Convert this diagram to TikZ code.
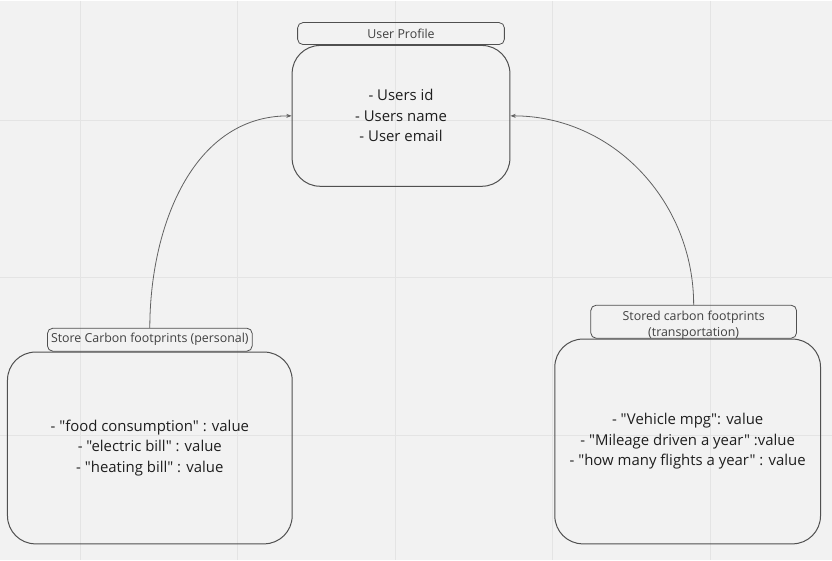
\documentclass[tikz,border=0pt]{standalone}
\usepackage{fontspec}
\setmainfont{Open Sans}[Ligatures=TeXOff]
\usepackage{tikz}
\usetikzlibrary{positioning}
\usetikzlibrary{arrows.meta}
\definecolor{canvas}{RGB}{242, 242, 242}
\definecolor{gridline}{RGB}{228, 228, 228}
\definecolor{outline}{RGB}{80, 80, 80}
\definecolor{inktext}{RGB}{30, 30, 30}

\begin{document}
\begin{tikzpicture}[x=0.75pt, y=-0.75pt,
        bigbox/.style   ={draw=outline, line width=0.75pt, rounded corners=21pt, align=center, inner sep=0pt,
                          text=inktext, font=\fontsize{11.2}{15.4}\selectfont},
        titlebox/.style ={draw=outline, line width=0.6pt, rounded corners=4pt, align=center, inner sep=0pt,
                          text=inktext!85, font=\fontsize{9.3}{12}\selectfont},
        link/.style     ={draw=outline!90, line width=0.6pt, -{Stealth[length=4pt, width=3pt]}}]
            \fill[canvas] (0,0) rectangle (832,560);
            \foreach \gx in {80, 237.7, 395.4, 553.1, 710.8}
                \draw[gridline, line width=0.75pt] (\gx,0) -- (\gx,560);
            \foreach \gy in {120, 277.7, 435.4}
                \draw[gridline, line width=0.75pt] (0,\gy) -- (832,\gy);
            \node[bigbox, minimum width=163.5pt, minimum height=105.75pt] (profile)   at (401.0, 115.5)
                {- Users id\\- Users name\\- User email};
            \node[bigbox, minimum width=213.75pt, minimum height=144pt]   (personal)  at (149.5, 448.0)
                {- "food consumption" : value\\- "electric bill" : value\\- "heating bill" : value};
            \node[bigbox, minimum width=199.5pt, minimum height=153.75pt] (transport) at (688.0, 441.5)
                {- "Vehicle mpg": value\\- "Mileage driven a year" :value\\- "how many flights a year" : value};
            \node[titlebox, minimum width=155.25pt, minimum height=16.5pt,  above=0pt of profile]   (profileT)   {User Profile};
            \node[titlebox, minimum width=153.75pt, minimum height=17.25pt, above=0pt of personal]  (personalT)  {Store Carbon footprints (personal)};
            \node[titlebox, minimum width=154.5pt,  minimum height=24.75pt, above=0pt of transport, xshift=4.5pt,
                  text height=22pt, text depth=0pt] (transportT)
                {Stored carbon footprints\\(transportation)};
            \draw[link] (personalT.north)  to[out=90, in=180] (profile.west);
            \draw[link] (transportT.north) to[out=90, in=0]   (profile.east);
\end{tikzpicture}
\end{document}
